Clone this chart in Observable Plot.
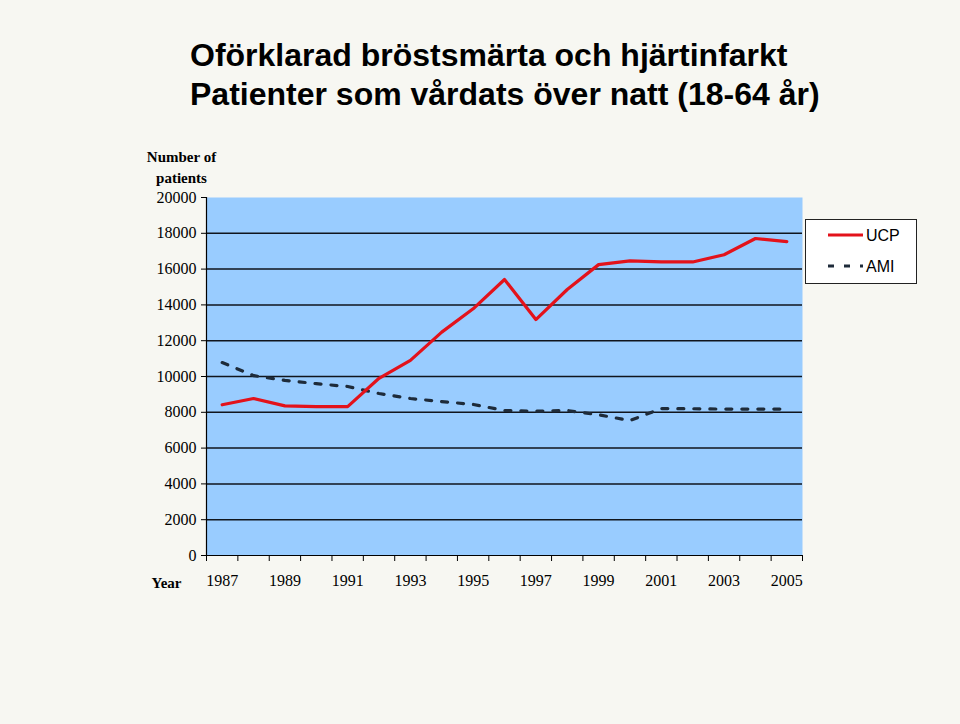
<!DOCTYPE html>
<html>
<head>
<meta charset="utf-8">
<script src="https://cdn.jsdelivr.net/npm/d3@7"></script>
<script src="https://cdn.jsdelivr.net/npm/@observablehq/plot@0.6"></script>
<style>
  html, body { margin: 0; padding: 0; background: #f7f7f2; }
  #wrap { position: relative; width: 960px; height: 724px; background: #f7f7f2; overflow: hidden; }
  #title { height: 130px; box-sizing: border-box; padding: 36px 0 0 190px;
    font-family: "Liberation Sans", Arial, sans-serif; font-weight: bold; font-size: 32px; line-height: 39px; color: #000; white-space: nowrap; }
  #legend { position: absolute; left: 805px; top: 219px; }
  svg { display: block; }
</style>
</head>
<body>
<div id="wrap">
  <div id="title">Oförklarad bröstsmärta och hjärtinfarkt<br>Patienter som vårdats över natt (18-64 år)</div>
  <div id="chart"></div>
  <div id="legend"></div>
</div>
<script>
const years = [1987,1988,1989,1990,1991,1992,1993,1994,1995,1996,1997,1998,1999,2000,2001,2002,2003,2004,2005];
const ucp = [8420,8770,8360,8320,8320,9900,10900,12480,13780,15420,13180,14860,16250,16460,16400,16400,16800,17710,17540];
const ami = [10780,10050,9780,9600,9440,9050,8770,8600,8440,8100,8060,8100,7860,7540,8210,8200,8180,8180,8180];
const yTicks = [0,2000,4000,6000,8000,10000,12000,14000,16000,18000,20000];
const gridValues = [2000,4000,6000,8000,10000,12000,14000,16000,18000];
const yearLabels = [1987,1989,1991,1993,1995,1997,1999,2001,2003,2005];
const seriesNames = ["UCP", "AMI"];
const colors = {UCP: "#e3121b", AMI: "#1e2b3a"};

const rows = years.flatMap((yr, i) => [
  {year: yr, value: ucp[i], series: "UCP"},
  {year: yr, value: ami[i], series: "AMI"}
]);
const boundaries = d3.range(years[0] - 0.5, years[years.length - 1] + 1, 1);

const chart = Plot.plot({
  width: 960,
  height: 594,
  marginLeft: 206,
  marginRight: 158,
  marginTop: 67,
  marginBottom: 169,
  style: {fontFamily: "'Liberation Serif', 'Times New Roman', serif", fontSize: "16px", color: "#000", background: "transparent"},
  x: {type: "linear", domain: [years[0] - 0.5, years[years.length - 1] + 0.5]},
  y: {domain: [0, 20000]},
  marks: [
    Plot.frame({fill: "#99ccff", stroke: null}),
    Plot.ruleY(gridValues, {stroke: "#10151d", strokeWidth: 1.5}),
    Plot.lineY(rows.filter(d => d.series === "AMI"), {x: "year", y: "value", stroke: colors.AMI, strokeWidth: 3.2, strokeDasharray: "6,10"}),
    Plot.lineY(rows.filter(d => d.series === "UCP"), {x: "year", y: "value", stroke: colors.UCP, strokeWidth: 3.2}),
    Plot.ruleY([0], {stroke: "#000", strokeWidth: 1.2}),
    Plot.ruleX([years[0] - 0.5], {stroke: "#000", strokeWidth: 1.2}),
    Plot.axisY({ticks: yTicks, tickSize: 5, tickPadding: 5, tickFormat: d => `${d}`, label: null, fontSize: 16}),
    Plot.axisX({ticks: boundaries, tickSize: 6, tickFormat: () => "", label: null}),
    Plot.axisX({ticks: yearLabels, tickSize: 0, tickPadding: 19, tickFormat: d => `${d}`, label: null, fontSize: 16}),
    Plot.text(["Number of\npatients"], {frameAnchor: "top-left", dx: -25, dy: -31.5, text: d => d, fontWeight: "bold", fontSize: 15, lineHeight: 1.4, lineAnchor: "middle", textAnchor: "middle"}),
    Plot.text(["Year"], {frameAnchor: "bottom-left", dx: -40, dy: 28, text: d => d, fontWeight: "bold", fontSize: 15, lineAnchor: "middle", textAnchor: "middle"})
  ]
});
document.getElementById("chart").appendChild(chart);

// Legend
const lg = d3.select("#legend").append("svg").attr("width", 112).attr("height", 65);
lg.append("rect").attr("x", 0.5).attr("y", 0.5).attr("width", 111).attr("height", 64)
  .attr("fill", "#ffffff").attr("stroke", "#222").attr("stroke-width", 1);
seriesNames.forEach((name, i) => {
  const cy = 16 + i * 31;
  lg.append("line").attr("x1", 23).attr("x2", 58).attr("y1", cy).attr("y2", cy)
    .attr("stroke", colors[name]).attr("stroke-width", 3.2)
    .attr("stroke-dasharray", name === "AMI" ? "6,10" : null);
  lg.append("text").attr("x", 61).attr("y", cy + 6).text(name)
    .attr("font-family", "'Liberation Sans', Arial, sans-serif").attr("font-size", 16).attr("fill", "#000");
});
</script>
</body>
</html>
